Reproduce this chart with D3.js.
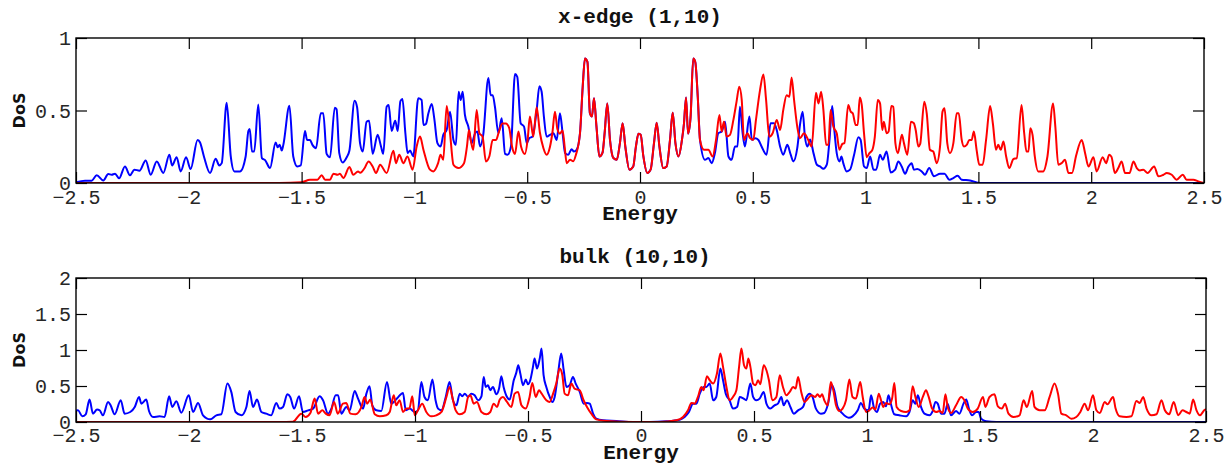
<!DOCTYPE html>
<html>
<head>
<meta charset="utf-8">
<script src="https://cdn.jsdelivr.net/npm/d3@7"></script>
<style>
  body { margin: 0; background: #fff; }
</style>
</head>
<body>
<div id="chart"></div>
<script>
// ---- data (energy, DoS) ----
const xTicks = [-2.5, -2, -1.5, -1, -0.5, 0, 0.5, 1, 1.5, 2, 2.5];
const topYTicks = [0, 0.5, 1];
const botYTicks = [0, 0.5, 1, 1.5, 2];

// x-edge (1,10): blue, left of the shared centre
const topBlueLeft = [[-2.5,0.005],[-2.46,0.016],[-2.431,0.016],[-2.408,0.053],[-2.379,0.018],[-2.357,0.062],[-2.342,0.057],[-2.327,0.064],[-2.309,0.032],[-2.283,0.114],[-2.261,0.053],[-2.241,0.092],[-2.219,0.085],[-2.191,0.156],[-2.169,0.057],[-2.142,0.149],[-2.113,0.069],[-2.086,0.195],[-2.074,0.121],[-2.054,0.178],[-2.036,0.08],[-2.012,0.178],[-1.992,0.096],[-1.961,0.297],[-1.95,0.279],[-1.933,0.183],[-1.906,0.069],[-1.881,0.167],[-1.865,0.121],[-1.854,0.137],[-1.832,0.554],[-1.814,0.183],[-1.798,0.08],[-1.773,0.08],[-1.748,0.183],[-1.736,0.359],[-1.73,0.373],[-1.72,0.217],[-1.71,0.217],[-1.692,0.542],[-1.676,0.172],[-1.661,0.156],[-1.64,0.103],[-1.615,0.279],[-1.606,0.247],[-1.597,0.263],[-1.588,0.224],[-1.581,0.263],[-1.554,0.533],[-1.537,0.183],[-1.519,0.114],[-1.504,0.121],[-1.485,0.359],[-1.476,0.297],[-1.463,0.297],[-1.452,0.263],[-1.436,0.24],[-1.415,0.481],[-1.404,0.481],[-1.389,0.201],[-1.374,0.178],[-1.353,0.519],[-1.345,0.508],[-1.333,0.206],[-1.318,0.142],[-1.3,0.178],[-1.288,0.224],[-1.265,0.567],[-1.254,0.522],[-1.241,0.275],[-1.229,0.217],[-1.212,0.423],[-1.201,0.43],[-1.185,0.201],[-1.163,0.332],[-1.148,0.252],[-1.138,0.201],[-1.123,0.526],[-1.114,0.538],[-1.101,0.359],[-1.085,0.43],[-1.074,0.359],[-1.062,0.565],[-1.053,0.579],[-1.04,0.343],[-1.03,0.206],[-1.019,0.224],[-1.005,0.183],[-0.983,0.584],[-0.968,0.572],[-0.96,0.4],[-0.949,0.407],[-0.938,0.481],[-0.923,0.545],[-0.912,0.446],[-0.898,0.275],[-0.884,0.252],[-0.872,0.332],[-0.857,0.366],[-0.842,0.492],[-0.827,0.297],[-0.816,0.263],[-0.804,0.629],[-0.795,0.572],[-0.786,0.629],[-0.776,0.469],[-0.761,0.389],[-0.746,0.275],[-0.731,0.343],[-0.721,0.355],[-0.709,0.252],[-0.695,0.332],[-0.672,0.725],[-0.662,0.606],[-0.653,0.606],[-0.643,0.526],[-0.628,0.343],[-0.613,0.446],[-0.598,0.201],[-0.587,0.195],[-0.572,0.252],[-0.554,0.751],[-0.544,0.732],[-0.529,0.412],[-0.514,0.389],[-0.502,0.275],[-0.491,0.309],[-0.477,0.32],[-0.458,0.503],[-0.446,0.668],[-0.436,0.629],[-0.426,0.458],[-0.414,0.32],[-0.399,0.332],[-0.384,0.343],[-0.369,0.297],[-0.355,0.481],[-0.343,0.343],[-0.332,0.206],[-0.318,0.195],[-0.303,0.233],[-0.293,0.217],[-0.281,0.229],[-0.266,0.343]];

// x-edge (1,10): red, left of the shared centre
const topRedLeft = [[-2.5,0],[-1.6,0],[-1.5,0.005],[-1.463,0.023],[-1.43,0.023],[-1.411,0.053],[-1.396,0.023],[-1.374,0.023],[-1.359,0.064],[-1.34,0.057],[-1.33,0.064],[-1.315,0.034],[-1.288,0.11],[-1.271,0.057],[-1.25,0.08],[-1.24,0.07],[-1.222,0.1],[-1.203,0.149],[-1.185,0.114],[-1.17,0.069],[-1.152,0.126],[-1.123,0.069],[-1.093,0.222],[-1.082,0.137],[-1.067,0.195],[-1.049,0.137],[-1.031,0.183],[-1.008,0.092],[-0.99,0.252],[-0.975,0.32],[-0.96,0.23],[-0.931,0.092],[-0.916,0.08],[-0.895,0.137],[-0.884,0.195],[-0.872,0.16],[-0.857,0.531],[-0.842,0.343],[-0.827,0.126],[-0.805,0.103],[-0.78,0.137],[-0.767,0.252],[-0.758,0.366],[-0.749,0.286],[-0.739,0.229],[-0.724,0.503],[-0.712,0.343],[-0.698,0.32],[-0.683,0.149],[-0.668,0.183],[-0.653,0.297],[-0.638,0.297],[-0.626,0.35],[-0.61,0.41],[-0.595,0.41],[-0.58,0.38],[-0.567,0.25],[-0.554,0.2],[-0.539,0.355],[-0.527,0.25],[-0.51,0.2],[-0.498,0.3],[-0.488,0.458],[-0.473,0.32],[-0.458,0.522],[-0.444,0.35],[-0.428,0.24],[-0.414,0.195],[-0.399,0.25],[-0.388,0.35],[-0.377,0.492],[-0.366,0.37],[-0.355,0.34],[-0.343,0.362],[-0.334,0.25],[-0.325,0.137],[-0.31,0.16],[-0.296,0.15],[-0.284,0.195],[-0.266,0.343]];

// x-edge (1,10): centre where both curves coincide
const topShared = [[-0.254,0.664],[-0.244,0.858],[-0.233,0.835],[-0.222,0.481],[-0.213,0.458],[-0.204,0.584],[-0.193,0.39],[-0.18,0.183],[-0.166,0.21],[-0.157,0.34],[-0.145,0.549],[-0.133,0.297],[-0.118,0.172],[-0.103,0.16],[-0.089,0.275],[-0.077,0.412],[-0.065,0.25],[-0.047,0.092],[-0.03,0.114],[-0.018,0.252],[-0.007,0.339],[0.003,0.332],[0.015,0.183],[0.032,0.069],[0.047,0.092],[0.062,0.275],[0.074,0.416],[0.086,0.252],[0.103,0.103],[0.118,0.114],[0.133,0.297],[0.145,0.485],[0.157,0.275],[0.171,0.183],[0.186,0.297],[0.195,0.412],[0.204,0.59],[0.213,0.34],[0.224,0.45],[0.236,0.858],[0.245,0.835],[0.256,0.595],[0.266,0.297]];

// x-edge (1,10): right of the centre
const topBlueRight = [[0.288,0.16],[0.303,0.172],[0.318,0.137],[0.332,0.206],[0.347,0.343],[0.362,0.355],[0.377,0.423],[0.392,0.183],[0.406,0.16],[0.421,0.252],[0.432,0.252],[0.443,0.526],[0.455,0.343],[0.465,0.252],[0.485,0.458],[0.496,0.297],[0.51,0.309],[0.525,0.297],[0.539,0.252],[0.561,0.195],[0.579,0.412],[0.594,0.412],[0.606,0.366],[0.621,0.252],[0.635,0.195],[0.653,0.263],[0.668,0.195],[0.68,0.149],[0.697,0.24],[0.709,0.4],[0.721,0.492],[0.731,0.32],[0.742,0.252],[0.754,0.3],[0.769,0.206],[0.784,0.126],[0.798,0.114],[0.813,0.098],[0.828,0.126],[0.84,0.297],[0.852,0.531],[0.86,0.389],[0.872,0.206],[0.884,0.149],[0.893,0.183],[0.901,0.137],[0.916,0.08],[0.931,0.092],[0.949,0.195],[0.968,0.316],[0.978,0.297],[0.993,0.114],[1.005,0.103],[1.02,0.183],[1.035,0.092],[1.047,0.092],[1.064,0.195],[1.076,0.16],[1.093,0.217],[1.111,0.073],[1.131,0.092],[1.145,0.149],[1.16,0.114],[1.175,0.064],[1.19,0.114],[1.204,0.137],[1.214,0.092],[1.229,0.096],[1.249,0.08],[1.263,0.057],[1.282,0.103],[1.303,0.046],[1.33,0.064],[1.35,0.064],[1.371,0.023],[1.389,0.034],[1.408,0.05],[1.426,0.023],[1.463,0.018],[1.507,0],[2.5,0]];

const topRedRight = [[0.284,0.229],[0.303,0.229],[0.322,0.183],[0.337,0.297],[0.352,0.469],[0.362,0.355],[0.372,0.423],[0.384,0.32],[0.399,0.332],[0.414,0.435],[0.428,0.561],[0.44,0.664],[0.451,0.572],[0.461,0.297],[0.476,0.343],[0.488,0.309],[0.502,0.297],[0.514,0.435],[0.532,0.641],[0.547,0.748],[0.559,0.572],[0.573,0.32],[0.588,0.343],[0.606,0.435],[0.621,0.366],[0.635,0.503],[0.65,0.606],[0.662,0.595],[0.672,0.728],[0.683,0.572],[0.697,0.389],[0.709,0.309],[0.727,0.343],[0.742,0.309],[0.761,0.252],[0.78,0.622],[0.791,0.549],[0.803,0.629],[0.813,0.503],[0.825,0.263],[0.835,0.263],[0.845,0.503],[0.857,0.389],[0.872,0.343],[0.884,0.229],[0.897,0.27],[0.906,0.275],[0.923,0.538],[0.934,0.492],[0.943,0.481],[0.956,0.4],[0.965,0.4],[0.974,0.59],[0.983,0.538],[0.993,0.343],[1.005,0.178],[1.017,0.206],[1.03,0.229],[1.041,0.32],[1.054,0.572],[1.064,0.549],[1.074,0.366],[1.081,0.423],[1.093,0.343],[1.102,0.355],[1.114,0.531],[1.123,0.526],[1.132,0.275],[1.143,0.206],[1.161,0.332],[1.17,0.275],[1.185,0.195],[1.201,0.423],[1.214,0.412],[1.222,0.366],[1.234,0.252],[1.242,0.27],[1.26,0.561],[1.271,0.481],[1.285,0.229],[1.3,0.217],[1.315,0.137],[1.33,0.252],[1.341,0.492],[1.35,0.515],[1.362,0.275],[1.374,0.206],[1.389,0.275],[1.404,0.481],[1.413,0.481],[1.426,0.297],[1.436,0.252],[1.448,0.263],[1.46,0.297],[1.47,0.297],[1.48,0.355],[1.492,0.229],[1.504,0.126],[1.519,0.126],[1.534,0.297],[1.552,0.531],[1.564,0.412],[1.578,0.229],[1.588,0.263],[1.599,0.229],[1.611,0.286],[1.623,0.183],[1.637,0.103],[1.655,0.165],[1.67,0.172],[1.691,0.538],[1.703,0.343],[1.713,0.217],[1.722,0.217],[1.73,0.378],[1.74,0.332],[1.75,0.183],[1.765,0.08],[1.787,0.08],[1.806,0.183],[1.831,0.549],[1.841,0.389],[1.854,0.126],[1.869,0.137],[1.884,0.16],[1.899,0.069],[1.915,0.069],[1.933,0.188],[1.958,0.297],[1.973,0.206],[1.988,0.114],[2.01,0.178],[2.024,0.08],[2.051,0.178],[2.066,0.137],[2.08,0.195],[2.09,0.18],[2.105,0.069],[2.12,0.103],[2.135,0.149],[2.15,0.069],[2.17,0.069],[2.187,0.149],[2.202,0.103],[2.216,0.087],[2.231,0.092],[2.25,0.069],[2.279,0.114],[2.298,0.046],[2.32,0.057],[2.335,0.069],[2.357,0.057],[2.379,0.023],[2.406,0.057],[2.423,0.023],[2.453,0.023],[2.475,0.011],[2.5,0]];

// bulk (10,10)
const botBlue = [[-2.5,0.16],[-2.491,0.162],[-2.472,0.079],[-2.457,0.107],[-2.44,0.311],[-2.425,0.116],[-2.407,0.172],[-2.395,0.162],[-2.381,0.093],[-2.358,0.278],[-2.347,0.232],[-2.329,0.107],[-2.302,0.302],[-2.285,0.116],[-2.26,0.139],[-2.24,0.209],[-2.221,0.348],[-2.211,0.255],[-2.189,0.311],[-2.177,0.153],[-2.159,0.07],[-2.13,0.079],[-2.108,0.07],[-2.088,0.357],[-2.074,0.209],[-2.056,0.288],[-2.034,0.13],[-2.001,0.371],[-1.982,0.139],[-1.96,0.265],[-1.938,0.093],[-1.906,0.037],[-1.879,0.093],[-1.857,0.107],[-1.83,0.534],[-1.813,0.418],[-1.794,0.139],[-1.768,0.093],[-1.746,0.209],[-1.732,0.432],[-1.717,0.209],[-1.699,0.311],[-1.68,0.139],[-1.658,0.116],[-1.636,0.093],[-1.614,0.265],[-1.599,0.186],[-1.584,0.209],[-1.565,0.385],[-1.552,0.348],[-1.535,0.186],[-1.513,0.357],[-1.496,0.139],[-1.473,0.162],[-1.451,0.186],[-1.422,0.357],[-1.407,0.302],[-1.385,0.116],[-1.37,0.186],[-1.351,0.371],[-1.34,0.371],[-1.326,0.116],[-1.304,0.209],[-1.289,0.162],[-1.267,0.432],[-1.252,0.325],[-1.23,0.186],[-1.215,0.394],[-1.201,0.497],[-1.189,0.232],[-1.171,0.162],[-1.149,0.153],[-1.124,0.557],[-1.105,0.255],[-1.08,0.325],[-1.053,0.404],[-1.041,0.162],[-1.024,0.186],[-1.001,0.139],[-0.987,0.162],[-0.972,0.557],[-0.958,0.348],[-0.943,0.302],[-0.923,0.589],[-0.909,0.302],[-0.898,0.186],[-0.883,0.162],[-0.864,0.348],[-0.847,0.557],[-0.832,0.302],[-0.817,0.232],[-0.802,0.394],[-0.791,0.357],[-0.78,0.394],[-0.765,0.348],[-0.751,0.394],[-0.736,0.371],[-0.721,0.302],[-0.706,0.357],[-0.696,0.626],[-0.687,0.487],[-0.677,0.51],[-0.667,0.441],[-0.655,0.487],[-0.64,0.385],[-0.628,0.464],[-0.618,0.636],[-0.608,0.487],[-0.593,0.348],[-0.581,0.311],[-0.563,0.58],[-0.552,0.682],[-0.543,0.789],[-0.534,0.673],[-0.522,0.51],[-0.51,0.589],[-0.5,0.524],[-0.49,0.58],[-0.478,0.765],[-0.471,0.882],[-0.46,0.742],[-0.448,0.882],[-0.44,1.021],[-0.431,0.65],[-0.419,0.487],[-0.404,0.348],[-0.392,0.278],[-0.382,0.348],[-0.367,0.673],[-0.353,0.951],[-0.342,0.719],[-0.33,0.487],[-0.316,0.51],[-0.301,0.626],[-0.289,0.534],[-0.271,0.418],[-0.254,0.255],[-0.239,0.265],[-0.227,0.255],[-0.212,0.116],[-0.198,0.046],[-0.168,0.023],[-0.109,0.014],[-0.035,0],[0.038,0],[0.112,0.009],[0.171,0.032],[0.193,0.07],[0.212,0.139],[0.23,0.255],[0.245,0.255],[0.26,0.394],[0.277,0.487],[0.289,0.487],[0.304,0.534],[0.319,0.302],[0.333,0.348],[0.351,0.742],[0.363,0.58],[0.375,0.394],[0.392,0.302],[0.407,0.186],[0.425,0.209],[0.437,0.348],[0.454,0.325],[0.466,0.302],[0.484,0.534],[0.496,0.348],[0.51,0.302],[0.525,0.325],[0.543,0.418],[0.555,0.255],[0.572,0.186],[0.591,0.232],[0.606,0.255],[0.621,0.348],[0.631,0.232],[0.646,0.302],[0.661,0.209],[0.676,0.116],[0.695,0.162],[0.717,0.209],[0.732,0.348],[0.746,0.394],[0.759,0.348],[0.774,0.186],[0.796,0.116],[0.811,0.125],[0.826,0.232],[0.845,0.51],[0.855,0.441],[0.87,0.209],[0.892,0.116],[0.919,0.06],[0.936,0.079],[0.959,0.162],[0.973,0.265],[0.988,0.186],[1.007,0.162],[1.018,0.371],[1.03,0.209],[1.044,0.139],[1.058,0.255],[1.072,0.278],[1.084,0.218],[1.095,0.371],[1.106,0.246],[1.121,0.107],[1.143,0.093],[1.173,0.079],[1.188,0.139],[1.202,0.302],[1.214,0.255],[1.225,0.371],[1.239,0.209],[1.254,0.116],[1.276,0.093],[1.291,0.153],[1.303,0.278],[1.313,0.255],[1.328,0.116],[1.343,0.116],[1.357,0.255],[1.372,0.093],[1.394,0.153],[1.409,0.116],[1.427,0.255],[1.439,0.311],[1.451,0.186],[1.465,0.093],[1.483,0.139],[1.494,0.139],[1.505,0.046],[1.527,0.009],[1.572,0],[2.5,0]];

const botRed = [[-2.5,0],[-1.6,0],[-1.54,0.004],[-1.503,0.116],[-1.484,0.07],[-1.463,0.125],[-1.444,0.325],[-1.429,0.116],[-1.41,0.162],[-1.395,0.116],[-1.378,0.093],[-1.358,0.278],[-1.342,0.116],[-1.319,0.255],[-1.304,0.265],[-1.286,0.116],[-1.263,0.107],[-1.237,0.209],[-1.223,0.348],[-1.212,0.255],[-1.198,0.311],[-1.178,0.107],[-1.156,0.079],[-1.127,0.093],[-1.112,0.139],[-1.094,0.371],[-1.083,0.232],[-1.068,0.302],[-1.053,0.139],[-1.038,0.186],[-1.025,0.186],[-1.012,0.357],[-1.001,0.093],[-0.987,0.162],[-0.968,0.255],[-0.95,0.139],[-0.928,0.079],[-0.906,0.093],[-0.883,0.139],[-0.861,0.348],[-0.847,0.487],[-0.835,0.348],[-0.82,0.162],[-0.802,0.107],[-0.78,0.139],[-0.765,0.348],[-0.755,0.371],[-0.74,0.255],[-0.726,0.278],[-0.706,0.139],[-0.684,0.107],[-0.667,0.139],[-0.652,0.255],[-0.637,0.209],[-0.625,0.311],[-0.611,0.348],[-0.593,0.278],[-0.574,0.209],[-0.559,0.394],[-0.544,0.418],[-0.529,0.232],[-0.51,0.186],[-0.493,0.348],[-0.481,0.543],[-0.466,0.348],[-0.451,0.441],[-0.441,0.4],[-0.419,0.302],[-0.404,0.278],[-0.389,0.394],[-0.375,0.534],[-0.36,0.742],[-0.348,0.65],[-0.338,0.394],[-0.323,0.371],[-0.308,0.534],[-0.294,0.464],[-0.271,0.441],[-0.254,0.302],[-0.239,0.209],[-0.22,0.116],[-0.198,0.037],[-0.153,0.014],[-0.035,0],[0.083,0],[0.156,0.023],[0.186,0.07],[0.208,0.162],[0.223,0.265],[0.237,0.255],[0.252,0.348],[0.267,0.487],[0.277,0.441],[0.292,0.636],[0.304,0.58],[0.319,0.534],[0.336,0.673],[0.351,0.951],[0.363,0.766],[0.378,0.487],[0.392,0.302],[0.407,0.348],[0.422,0.441],[0.434,0.766],[0.444,1.021],[0.456,0.789],[0.466,0.742],[0.475,0.882],[0.484,0.766],[0.496,0.534],[0.507,0.51],[0.518,0.58],[0.528,0.524],[0.543,0.789],[0.555,0.719],[0.566,0.58],[0.581,0.302],[0.599,0.348],[0.614,0.65],[0.628,0.487],[0.643,0.371],[0.658,0.418],[0.673,0.487],[0.684,0.464],[0.695,0.626],[0.709,0.418],[0.724,0.278],[0.739,0.325],[0.754,0.371],[0.771,0.348],[0.781,0.385],[0.792,0.348],[0.801,0.385],[0.811,0.302],[0.826,0.232],[0.84,0.557],[0.851,0.441],[0.863,0.232],[0.877,0.153],[0.892,0.186],[0.907,0.302],[0.922,0.589],[0.936,0.348],[0.951,0.325],[0.97,0.557],[0.981,0.348],[0.996,0.139],[1.01,0.162],[1.025,0.2],[1.037,0.172],[1.052,0.394],[1.062,0.302],[1.072,0.209],[1.084,0.265],[1.099,0.246],[1.111,0.325],[1.121,0.543],[1.131,0.209],[1.151,0.153],[1.173,0.139],[1.188,0.162],[1.202,0.497],[1.214,0.348],[1.229,0.209],[1.247,0.348],[1.261,0.441],[1.273,0.348],[1.288,0.186],[1.306,0.139],[1.321,0.153],[1.335,0.125],[1.347,0.385],[1.357,0.209],[1.372,0.125],[1.394,0.232],[1.417,0.348],[1.431,0.302],[1.446,0.186],[1.468,0.139],[1.49,0.186],[1.513,0.348],[1.524,0.209],[1.542,0.348],[1.564,0.385],[1.579,0.218],[1.597,0.186],[1.611,0.255],[1.626,0.116],[1.648,0.07],[1.675,0.093],[1.693,0.302],[1.707,0.209],[1.731,0.432],[1.741,0.209],[1.764,0.162],[1.786,0.162],[1.808,0.348],[1.83,0.534],[1.845,0.394],[1.86,0.116],[1.882,0.093],[1.904,0.046],[1.926,0.07],[1.944,0.139],[1.963,0.255],[1.978,0.162],[2,0.371],[2.015,0.162],[2.03,0.125],[2.052,0.278],[2.064,0.246],[2.089,0.348],[2.1,0.186],[2.118,0.079],[2.148,0.07],[2.17,0.079],[2.192,0.292],[2.207,0.265],[2.222,0.348],[2.237,0.186],[2.259,0.093],[2.281,0.107],[2.303,0.302],[2.318,0.162],[2.337,0.107],[2.357,0.278],[2.377,0.093],[2.396,0.162],[2.413,0.139],[2.428,0.116],[2.443,0.311],[2.458,0.162],[2.473,0.093],[2.492,0.162],[2.5,0.18]];

window.onload = function () {
  let container = d3.select("#chart");
  if (container.empty()) container = d3.select("body");

  const width = 1229;
  const height = 466;
  const monoFont = "'Liberation Mono', 'Courier New', 'DejaVu Sans Mono', monospace";

  const svg = container
    .append("svg")
    .attr("width", width)
    .attr("height", height)
    .style("display", "block")
    .style("background", "#fff");

  const fmt = d3.format("~g");

  function drawPanel(cfg) {
    const x = d3.scaleLinear().domain([-2.5, 2.5]).range([cfg.left, cfg.right]);
    const y = d3.scaleLinear().domain(cfg.yDomain).range([cfg.bottom, cfg.top]);
    const g = svg.append("g");

    // clip to the axes box
    const clipId = "clip-" + cfg.id;
    svg.append("clipPath").attr("id", clipId)
      .append("rect")
      .attr("x", cfg.left).attr("y", cfg.top - 2)
      .attr("width", cfg.right - cfg.left)
      .attr("height", cfg.bottom - cfg.top + 2);

    const line = d3.line()
      .x((d) => x(d[0]))
      .y((d) => y(d[1]))
      .curve(d3.curveMonotoneX);

    const plot = g.append("g").attr("clip-path", `url(#${clipId})`);
    cfg.series.forEach((s) => {
      plot.append("path")
        .datum(s.data)
        .attr("fill", "none")
        .attr("stroke", s.color)
        .attr("stroke-width", 2)
        .attr("stroke-linejoin", "round")
        .attr("d", line);
    });

    // axes: ticks pointing inward on all four sides
    const tickLen = 11;
    const axB = g.append("g").attr("transform", `translate(0,${cfg.bottom})`)
      .call(d3.axisBottom(x).tickValues(xTicks).tickSizeInner(-tickLen).tickSizeOuter(0).tickFormat(fmt));
    const axT = g.append("g").attr("transform", `translate(0,${cfg.top})`)
      .call(d3.axisTop(x).tickValues(xTicks).tickSizeInner(-tickLen).tickSizeOuter(0).tickFormat(""));
    const axL = g.append("g").attr("transform", `translate(${cfg.left},0)`)
      .call(d3.axisLeft(y).tickValues(cfg.yTicks).tickSizeInner(-tickLen).tickSizeOuter(0).tickPadding(5).tickFormat(fmt));
    const axR = g.append("g").attr("transform", `translate(${cfg.right},0)`)
      .call(d3.axisRight(y).tickValues(cfg.yTicks).tickSizeInner(-tickLen).tickSizeOuter(0).tickFormat(""));

    [axB, axT, axL, axR].forEach((a) => {
      a.select(".domain").remove();
      a.selectAll(".tick line").attr("stroke", "#000").attr("stroke-width", 1.2);
      a.selectAll("text")
        .style("font-family", monoFont)
        .style("font-size", "20px")
        .attr("fill", "#262626");
    });
    axB.selectAll("text").attr("dy", null).attr("y", cfg.tickBase - cfg.bottom);
    axL.selectAll("text").attr("dy", "0.33em");

    // box
    g.append("rect")
      .attr("x", cfg.left).attr("y", cfg.top)
      .attr("width", cfg.right - cfg.left)
      .attr("height", cfg.bottom - cfg.top)
      .attr("fill", "none")
      .attr("stroke", "#000")
      .attr("stroke-width", 1.4);

    // title
    g.append("text")
      .attr("x", cfg.titleX).attr("y", cfg.titleY)
      .attr("text-anchor", "middle")
      .style("font-family", monoFont)
      .style("font-weight", "700")
      .style("font-size", "21px")
      .attr("fill", "#111")
      .text(cfg.title);

    // x label
    g.append("text")
      .attr("x", (cfg.left + cfg.right) / 2).attr("y", cfg.xLabelY)
      .attr("text-anchor", "middle")
      .style("font-family", monoFont)
      .style("font-weight", "700")
      .style("font-size", "21px")
      .attr("fill", "#111")
      .text("Energy");

    // y label
    g.append("text")
      .attr("transform", `translate(25,${(cfg.top + cfg.bottom) / 2}) rotate(-90)`)
      .attr("text-anchor", "middle")
      .style("font-family", "'DejaVu Sans', sans-serif")
      .style("font-weight", "700")
      .style("font-size", "16px")
      .attr("fill", "#111")
      .text("DoS");
  }

  drawPanel({
    id: "top",
    left: 76, right: 1204, top: 38, bottom: 183,
    yDomain: [0, 1], yTicks: topYTicks,
    tickBase: 204, xLabelY: 220,
    title: "x-edge (1,10)", titleX: 640, titleY: 23,
    series: [
      { color: "#0000ff", data: topBlueLeft.concat(topShared, topBlueRight) },
      { color: "#ff0000", data: topRedLeft.concat(topShared, topRedRight) }
    ]
  });

  drawPanel({
    id: "bot",
    left: 76, right: 1206, top: 278, bottom: 422,
    yDomain: [0, 2], yTicks: botYTicks,
    tickBase: 442, xLabelY: 459,
    title: "bulk (10,10)", titleX: 635, titleY: 263,
    series: [
      { color: "#0000ff", data: botBlue },
      { color: "#ff0000", data: botRed }
    ]
  });
};
</script>
</body>
</html>
